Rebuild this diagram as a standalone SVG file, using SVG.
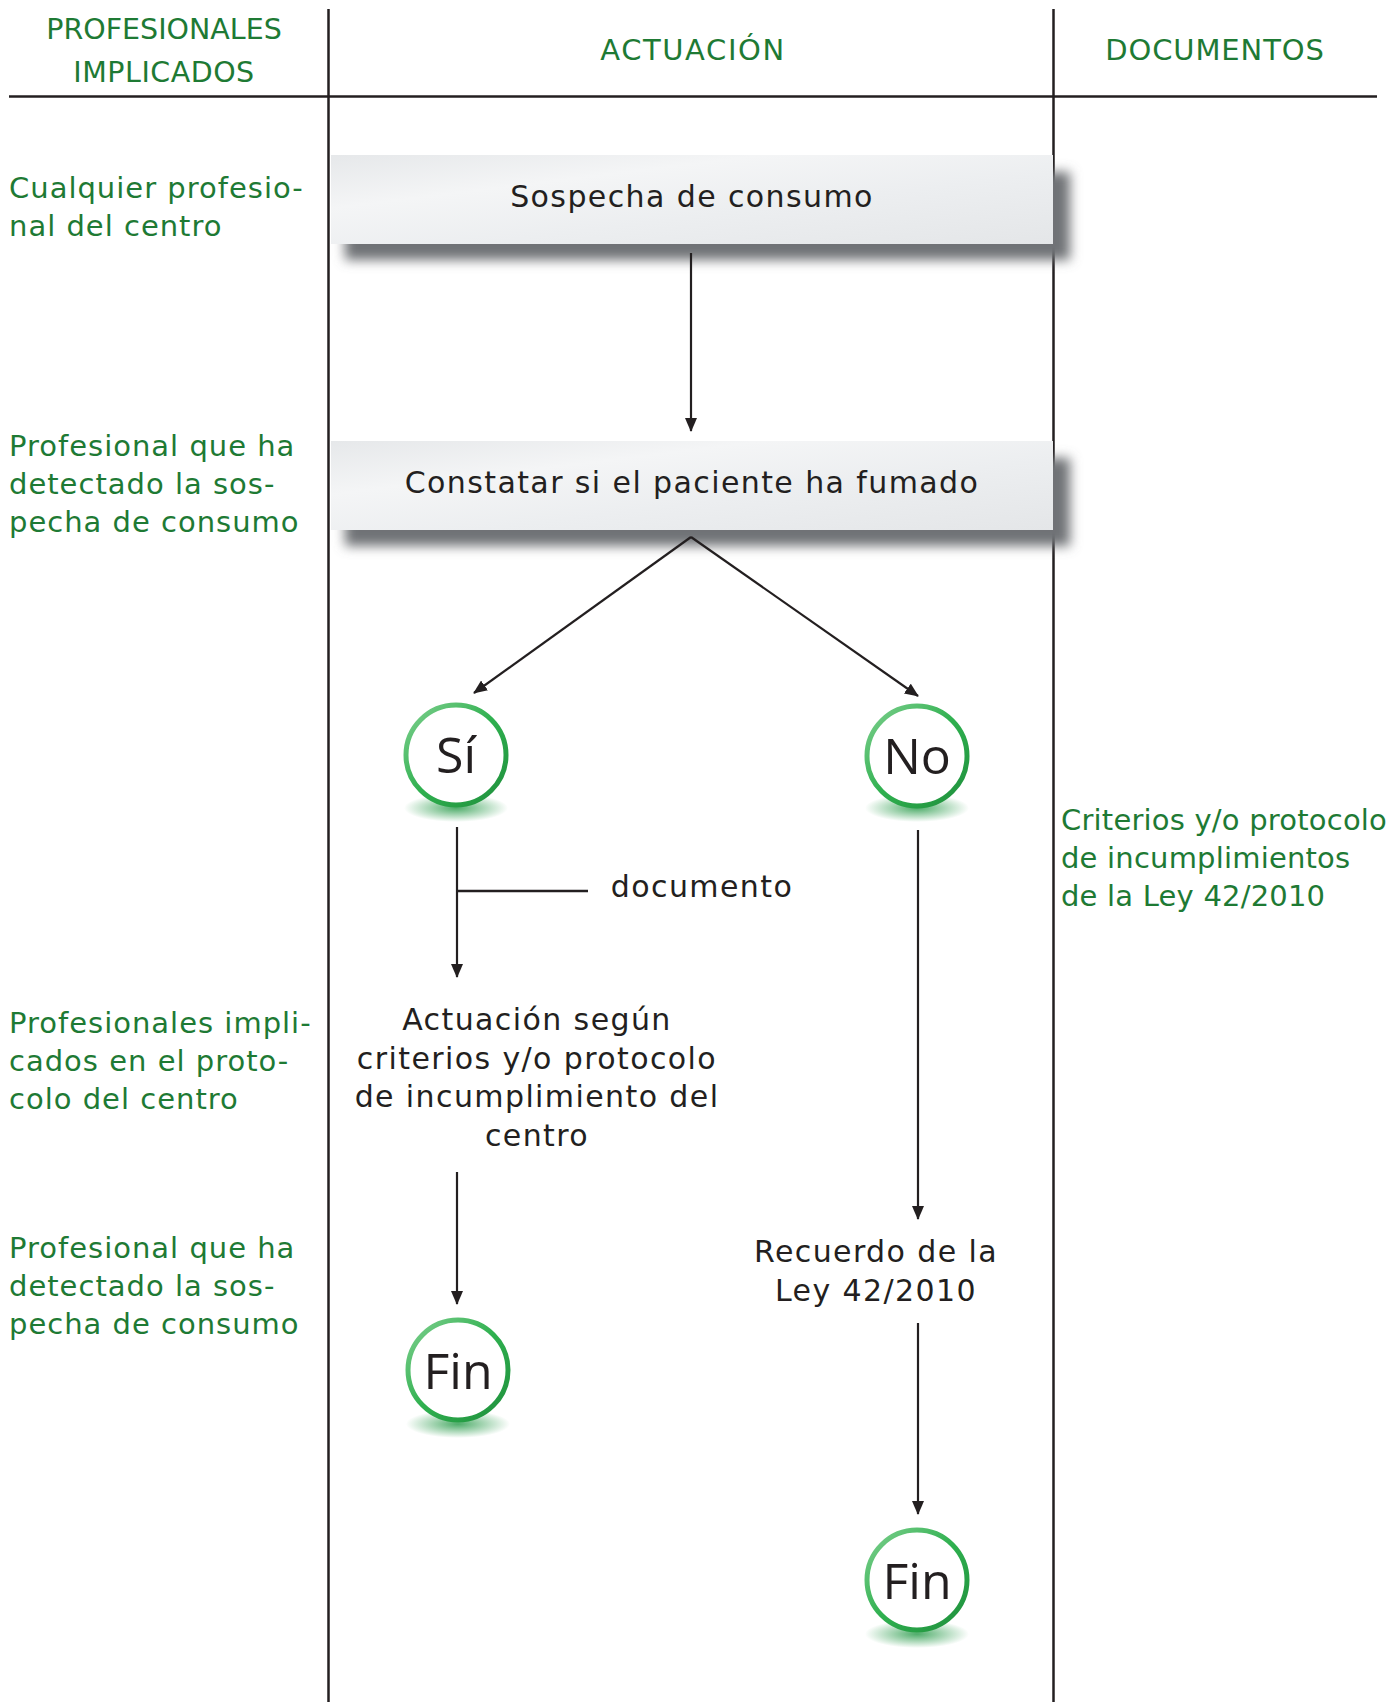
<svg xmlns="http://www.w3.org/2000/svg" width="1400" height="1702" viewBox="0 0 1400 1702">
<defs>
<style>
.g{fill:#1e7a34;font-family:"DejaVu Sans","Liberation Sans",sans-serif;font-size:29px;letter-spacing:1px}
.d{fill:#1e7a34;font-family:"DejaVu Sans","Liberation Sans",sans-serif;font-size:29px;letter-spacing:0.2px}
.h{fill:#1e7a34;font-family:"DejaVu Sans","Liberation Sans",sans-serif;font-size:29px;text-anchor:middle}
.t{fill:#231f20;font-family:"DejaVu Sans","Liberation Sans",sans-serif;font-size:30px;text-anchor:middle;letter-spacing:1.4px}
.c{fill:#231f20;font-family:"Open Sans","Liberation Sans",sans-serif;font-size:50px;text-anchor:middle}
.ln{stroke:#231f20;stroke-width:2.5;fill:none}
.ar{stroke:#231f20;stroke-width:2.2;fill:none;marker-end:url(#ah)}
.ring{fill:#fff;stroke:url(#rg);stroke-width:5}
.face{fill:url(#bx)}
</style>
<marker id="ah" markerWidth="14" markerHeight="12" refX="13" refY="6" orient="auto" markerUnits="userSpaceOnUse" viewBox="0 0 14 12">
<path d="M0,0 L14,6 L0,12 Z" fill="#231f20"/>
</marker>
<linearGradient id="bx" x1="0" y1="0" x2="1" y2="1">
<stop offset="0" stop-color="#e6e8ea"/>
<stop offset="0.3" stop-color="#f4f5f6"/>
<stop offset="0.6" stop-color="#eceef0"/>
<stop offset="1" stop-color="#e4e6e8"/>
</linearGradient>
<linearGradient id="rg" x1="0" y1="0" x2="1" y2="1">
<stop offset="0" stop-color="#7fd08f"/>
<stop offset="0.5" stop-color="#2fb04f"/>
<stop offset="1" stop-color="#1f8f3c"/>
</linearGradient>
<radialGradient id="sh" cx="0.5" cy="0.5" r="0.5">
<stop offset="0" stop-color="#2f9e4f" stop-opacity="0.85"/>
<stop offset="1" stop-color="#2f9e4f" stop-opacity="0"/>
</radialGradient>
<filter id="bl" x="-10%" y="-50%" width="120%" height="200%">
<feGaussianBlur stdDeviation="6"/>
</filter>
</defs>
<rect width="1400" height="1702" fill="#fff"/>
<g id="grid">
<line x1="9" y1="96.5" x2="1377" y2="96.5" stroke="#231f20" stroke-width="2.5"/>
<line x1="328.5" y1="9" x2="328.5" y2="1702" stroke="#231f20" stroke-width="2.5"/>
<line x1="1053.5" y1="9" x2="1053.5" y2="1702" stroke="#231f20" stroke-width="2.5"/>
</g>
<g id="headers">
<text class="h" x="164" y="39" style="font-size:28.5px">PROFESIONALES</text>
<text class="h" x="164" y="82" style="font-size:28.5px;letter-spacing:0.5px">IMPLICADOS</text>
<text class="h" x="693" y="60" style="letter-spacing:1.6px">ACTUACIÓN</text>
<text class="h" x="1215" y="60" style="letter-spacing:0.9px">DOCUMENTOS</text>
</g>
<g id="roles">
<text class="g" x="9" y="198">Cualquier profesio-</text>
<text class="g" x="9" y="236">nal del centro</text>
<text class="g" x="9" y="456">Profesional que ha</text>
<text class="g" x="9" y="494">detectado la sos-</text>
<text class="g" x="9" y="532">pecha de consumo</text>
<text class="g" x="9" y="1033">Profesionales impli-</text>
<text class="g" x="9" y="1071">cados en el proto-</text>
<text class="g" x="9" y="1109">colo del centro</text>
<text class="g" x="9" y="1258">Profesional que ha</text>
<text class="g" x="9" y="1296">detectado la sos-</text>
<text class="g" x="9" y="1334">pecha de consumo</text>
</g>
<g id="docs">
<text class="d" x="1061" y="830">Criterios y/o protocolo</text>
<text class="d" x="1061" y="868">de incumplimientos</text>
<text class="d" x="1061" y="906">de la Ley 42/2010</text>
</g>
<g id="n1">
<rect x="345" y="172" width="725" height="88" fill="#707276" filter="url(#bl)"/>
<rect class="face" x="331" y="155" width="722" height="89"/>
<text class="t" x="692" y="207">Sospecha de consumo</text>
</g>
<g id="n2">
<rect x="345" y="458" width="725" height="88" fill="#707276" filter="url(#bl)"/>
<rect class="face" x="331" y="441" width="722" height="89"/>
<text class="t" x="692" y="493">Constatar si el paciente ha fumado</text>
</g>
<g id="n3">
<ellipse cx="456" cy="808" rx="52" ry="14" fill="url(#sh)"/>
<circle class="ring" cx="456" cy="755" r="50"/>
<text class="c" x="456" y="773">Sí</text>
</g>
<g id="n4">
<ellipse cx="917" cy="808" rx="52" ry="14" fill="url(#sh)"/>
<circle class="ring" cx="917" cy="756" r="50"/>
<text class="c" x="917" y="774">No</text>
</g>
<g id="n5">
<text class="t" x="537" y="1030">Actuación según</text>
<text class="t" x="537" y="1069">criterios y/o protocolo</text>
<text class="t" x="537" y="1107">de incumplimiento del</text>
<text class="t" x="537" y="1146">centro</text>
</g>
<g id="n6">
<text class="t" x="876" y="1262">Recuerdo de la</text>
<text class="t" x="876" y="1301">Ley 42/2010</text>
</g>
<g id="n7">
<ellipse cx="458" cy="1424" rx="52" ry="14" fill="url(#sh)"/>
<circle class="ring" cx="458" cy="1370" r="50"/>
<text class="c" x="458" y="1389">Fin</text>
</g>
<g id="n8">
<ellipse cx="917" cy="1634" rx="52" ry="14" fill="url(#sh)"/>
<circle class="ring" cx="917" cy="1580" r="50"/>
<text class="c" x="917" y="1599">Fin</text>
</g>
<g id="connectors">
<line class="ar" x1="691" y1="253" x2="691" y2="431"/>
<line class="ar" x1="691" y1="537" x2="474" y2="693"/>
<line class="ar" x1="691" y1="537" x2="918" y2="696"/>
<line class="ar" x1="457" y1="827" x2="457" y2="977"/>
<line class="ln" x1="457" y1="891" x2="588" y2="891"/>
<text class="t" x="702" y="897">documento</text>
<line class="ar" x1="918" y1="830" x2="918" y2="1219"/>
<line class="ar" x1="457" y1="1172" x2="457" y2="1304"/>
<line class="ar" x1="918" y1="1323" x2="918" y2="1514"/>
</g>
</svg>
